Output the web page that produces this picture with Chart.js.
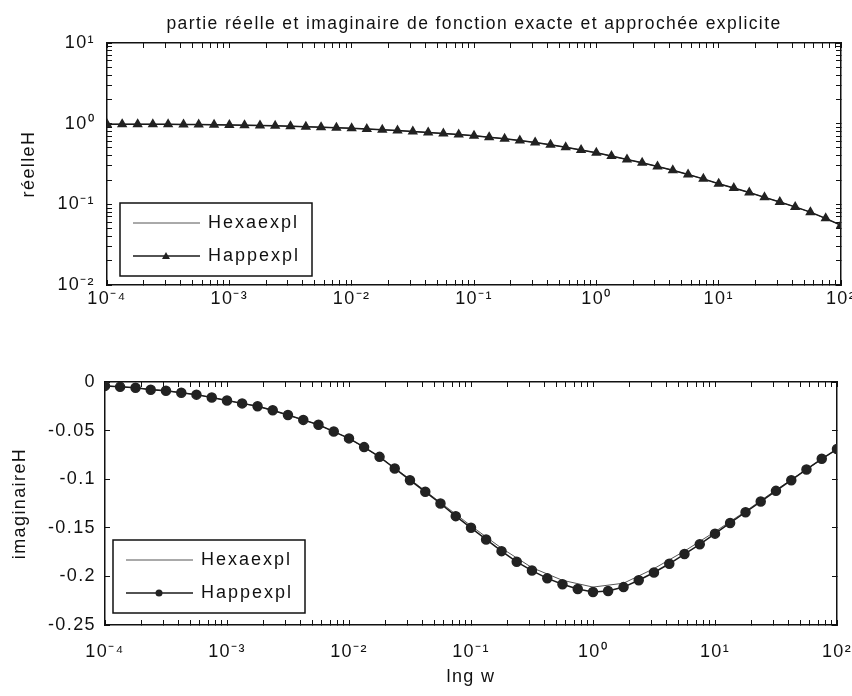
<!DOCTYPE html>
<html>
<head>
<meta charset="utf-8">
<script src="https://cdn.jsdelivr.net/npm/chart.js@4.4.1/dist/chart.umd.min.js"></script>
<style>
  html, body { margin: 0; padding: 0; background: #fff; }
  #cadre { position: relative; width: 852px; height: 696px; }
  canvas { position: absolute; left: 0; }
  #graficoReel { top: 0; }
  #graficoImag { top: 330px; }
</style>
</head>
<body>
<div id="cadre">
  <canvas id="graficoReel" width="852" height="330"></canvas>
  <canvas id="graficoImag" width="852" height="366"></canvas>
</div>
<script>
// Pulsations (quart de décade) pour la fonction exacte
const wExacte = [0.0001, 0.000178, 0.000316, 0.000562, 0.001, 0.00178, 0.00316, 0.00562,
  0.01, 0.0178, 0.0316, 0.0562, 0.1, 0.178, 0.316, 0.562, 1, 1.78, 3.16, 5.62, 10, 17.8, 31.6, 56.2, 100];

// Pulsations (huitième de décade) pour la fonction approchée
const wApprochee = [0.0001, 0.000133, 0.000178, 0.000237, 0.000316, 0.000422, 0.000562, 0.00075,
  0.001, 0.00133, 0.00178, 0.00237, 0.00316, 0.00422, 0.00562, 0.0075,
  0.01, 0.0133, 0.0178, 0.0237, 0.0316, 0.0422, 0.0562, 0.075,
  0.1, 0.133, 0.178, 0.237, 0.316, 0.422, 0.562, 0.75,
  1, 1.33, 1.78, 2.37, 3.16, 4.22, 5.62, 7.5,
  10, 13.3, 17.8, 23.7, 31.6, 42.2, 56.2, 75, 100];

// Partie réelle
const reelExacte = [0.985, 0.985, 0.98, 0.975, 0.965, 0.95, 0.93, 0.905, 0.875, 0.84, 0.80, 0.755,
  0.71, 0.65, 0.585, 0.51, 0.435, 0.36, 0.295, 0.235, 0.18, 0.14, 0.107, 0.08, 0.055];
const reelApprochee = [0.985, 0.985, 0.985, 0.983, 0.98, 0.978, 0.975, 0.97,
  0.965, 0.958, 0.95, 0.94, 0.93, 0.918, 0.905, 0.89,
  0.875, 0.858, 0.84, 0.82, 0.80, 0.778, 0.755, 0.733,
  0.71, 0.68, 0.65, 0.618, 0.585, 0.548, 0.51, 0.472,
  0.435, 0.397, 0.36, 0.327, 0.295, 0.264, 0.235, 0.207,
  0.18, 0.159, 0.14, 0.122, 0.107, 0.093, 0.08, 0.067, 0.055];

// Partie imaginaire
const imagExacte = [-0.004, -0.006, -0.009, -0.013, -0.019, -0.025, -0.034, -0.044, -0.058, -0.077,
  -0.100, -0.124, -0.148, -0.171, -0.191, -0.204, -0.211, -0.207, -0.192, -0.174, -0.154, -0.133,
  -0.111, -0.090, -0.069];
const imagApprochee = [-0.004, -0.005, -0.006, -0.008, -0.009, -0.011, -0.013, -0.016,
  -0.019, -0.022, -0.025, -0.029, -0.034, -0.039, -0.044, -0.051,
  -0.058, -0.067, -0.077, -0.089, -0.101, -0.113, -0.125, -0.138,
  -0.150, -0.162, -0.174, -0.185, -0.194, -0.202, -0.208, -0.213,
  -0.216, -0.215, -0.211, -0.204, -0.196, -0.187, -0.177, -0.167,
  -0.156, -0.145, -0.134, -0.123, -0.112, -0.101, -0.090, -0.079, -0.069];

const ticksImag = [0, -0.05, -0.1, -0.15, -0.2, -0.25];

const police = "'Liberation Sans', Arial, sans-serif";
Chart.defaults.font.family = police;
Chart.defaults.color = '#111';

const exposants = { '-': '\u207B', '0': '\u2070', '1': '\u00B9', '2': '\u00B2', '3': '\u00B3', '4': '\u2074' };
function puissance(v) {
  const e = Math.round(Math.log10(v));
  return '10' + String(e).split('').map(c => exposants[c]).join('');
}

// graduations 1..9 x 10^n comme sous MATLAB
function ticksLog(scale) {
  const t = [];
  const e0 = Math.round(Math.log10(scale.min)), e1 = Math.round(Math.log10(scale.max));
  for (let e = e0; e <= e1; e++) {
    for (let m = 1; m <= 9; m++) {
      const v = m * Math.pow(10, e);
      if (v <= scale.max * 1.0001) t.push({ value: v, major: m === 1 });
    }
  }
  scale.ticks = t;
}

function fixe(taille) {
  return function (scale) {
    if (scale.isHorizontal()) scale.height = taille; else scale.width = taille;
    scale.paddingLeft = 0; scale.paddingRight = 0; scale.paddingTop = 0; scale.paddingBottom = 0;
  };
}

const grille = { drawOnChartArea: false, drawTicks: true, tickLength: -5, color: '#111', lineWidth: 1 };
const bord = { display: true, color: '#111', width: 1.5 };

function axeLog(pos, min, max, etiquettes, taille, titre, pad) {
  return {
    type: 'logarithmic', position: pos, min: min, max: max,
    afterBuildTicks: ticksLog,
    afterFit: fixe(taille),
    border: bord, grid: grille,
    title: titre || { display: false },
    ticks: {
      display: etiquettes, autoSkip: false, maxRotation: 0, minRotation: 0, padding: pad || 8,
      font: { size: 18 }, color: '#111',
      callback: (v, i, t) => t[i].major ? puissance(v) : ''
    }
  };
}

function axeLin(pos, etiquettes, taille, titre) {
  return {
    type: 'linear', position: pos, min: -0.25, max: 0,
    afterBuildTicks: s => { s.ticks = ticksImag.map(v => ({ value: v })); },
    afterFit: fixe(taille),
    border: bord, grid: grille,
    title: titre || { display: false },
    ticks: {
      display: etiquettes, padding: 14, font: { size: 18 }, color: '#111',
      callback: v => String(Number(v.toFixed(2)))
    }
  };
}

// espacement des lettres, le scan de la figure a un texte plus large
const espacement = {
  id: 'espacement',
  beforeDraw(chart) { chart.ctx.letterSpacing = '1.4px'; }
};

// Légende dessinée dans la zone du graphe (en bas à gauche)
const legendeInterne = {
  id: 'legendeInterne',
  afterDraw(chart, args, o) {
    if (!o || !o.boite) return;
    const ctx = chart.ctx, a = chart.chartArea;
    const x = a.left + o.boite[0], y = a.bottom - o.boite[1], w = o.boite[2], h = o.boite[3];
    ctx.save();
    ctx.fillStyle = '#fff';
    ctx.fillRect(x, y, w, h);
    ctx.strokeStyle = '#111';
    ctx.lineWidth = 1.5;
    ctx.strokeRect(x, y, w, h);
    chart.data.datasets.forEach((ds, i) => {
      const ly = y + 20 + i * 33;
      ctx.strokeStyle = ds.borderColor;
      ctx.lineWidth = ds.borderWidth;
      ctx.beginPath(); ctx.moveTo(x + 13, ly); ctx.lineTo(x + 80, ly); ctx.stroke();
      if (ds.pointRadius > 0) {
        ctx.fillStyle = ds.pointBackgroundColor;
        ctx.beginPath();
        if (ds.pointStyle === 'triangle') {
          ctx.moveTo(x + 46, ly - 4); ctx.lineTo(x + 50, ly + 3); ctx.lineTo(x + 42, ly + 3); ctx.closePath();
        } else {
          ctx.arc(x + 46, ly, 3.5, 0, Math.PI * 2);
        }
        ctx.fill();
      }
      ctx.fillStyle = '#111';
      ctx.font = '18px ' + police;
      ctx.letterSpacing = '2px';
      ctx.textBaseline = 'middle';
      ctx.textAlign = 'left';
      ctx.fillText(ds.label, x + 88, ly);
    });
    ctx.restore();
  }
};
Chart.register(espacement, legendeInterne);

function serie(ws, vals) {
  return ws.map((w, i) => ({ x: w, y: vals[i] }));
}

function jeux(exacte, approchee, style) {
  return [
    { label: 'Hexaexpl', data: exacte, borderColor: '#555', borderWidth: 1, pointRadius: 0, order: 2 },
    { label: 'Happexpl', data: approchee, borderColor: '#1a1a1a', borderWidth: 1.5,
      pointStyle: style, pointRadius: 4.5, pointBackgroundColor: '#222', pointBorderColor: '#222',
      pointBorderWidth: 1.5, order: 1 }
  ];
}

function crearGraficoReel() {
  const ctx = document.getElementById('graficoReel');
  new Chart(ctx, {
    type: 'line',
    data: { datasets: jeux(serie(wExacte, reelExacte), serie(wApprochee, reelApprochee), 'triangle') },
    options: {
      responsive: false, animation: false,
      layout: { padding: 0 },
      scales: {
        x: axeLog('bottom', 0.0001, 100, true, 45),
        x2: axeLog('top', 0.0001, 100, false, 43,
          { display: true, text: 'partie réelle et imaginaire de fonction exacte et approchée explicite',
            font: { size: 17.5 }, color: '#111', padding: { top: 14, bottom: 0 } }),
        y: axeLog('left', 0.01, 10, true, 107,
          { display: true, text: 'réelleH', font: { size: 18 }, color: '#111', padding: { top: 18, bottom: 0 } }, 17),
        y2: axeLog('right', 0.01, 10, false, 11)
      },
      plugins: {
        legend: { display: false },
        tooltip: { enabled: false },
        legendeInterne: { boite: [13, 82, 192, 73] }
      }
    }
  });
}

function crearGraficoImag() {
  const ctx = document.getElementById('graficoImag');
  new Chart(ctx, {
    type: 'line',
    data: { datasets: jeux(serie(wExacte, imagExacte), serie(wApprochee, imagApprochee), 'circle') },
    options: {
      responsive: false, animation: false,
      layout: { padding: 0 },
      scales: {
        x: axeLog('bottom', 0.0001, 100, true, 71,
          { display: true, text: 'lng w', font: { size: 18 }, color: '#111', padding: { top: 0, bottom: 8 } }, 21),
        x2: axeLog('top', 0.0001, 100, false, 52),
        y: axeLin('left', true, 105,
          { display: true, text: 'imaginaireH', font: { size: 18 }, color: '#111', padding: { top: 9, bottom: 0 } }),
        y2: axeLin('right', false, 15)
      },
      plugins: {
        legend: { display: false },
        tooltip: { enabled: false },
        legendeInterne: { boite: [8, 85, 192, 73] }
      }
    }
  });
}

crearGraficoReel();
crearGraficoImag();
</script>
</body>
</html>
